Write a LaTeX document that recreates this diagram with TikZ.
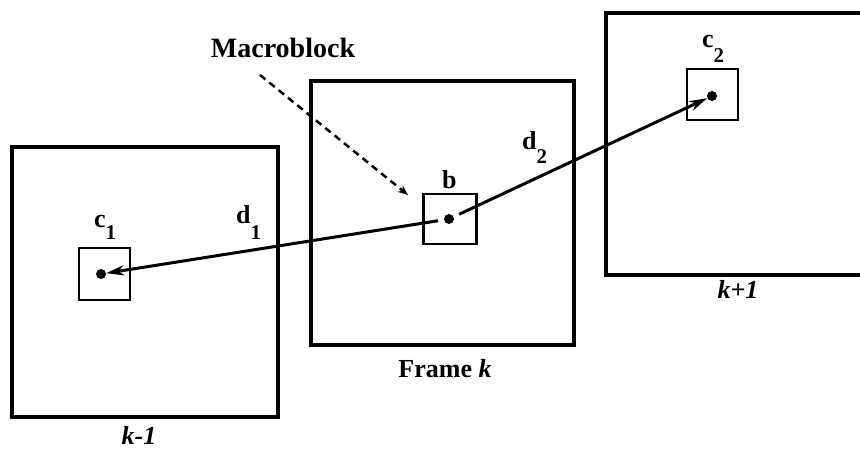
\documentclass[tikz,border=0pt]{standalone}
\usepackage{fontspec}
\setmainfont{Liberation Serif}
\usetikzlibrary{arrows.meta}
\begin{document}
\begin{tikzpicture}[x=1pt,y=-1pt,
  frame/.style={draw,line width=3.5pt,rectangle,inner sep=0pt},
  block/.style={draw,line width=2.5pt,rectangle,inner sep=0pt},
  dot/.style={circle,fill,inner sep=0pt,minimum size=10pt},
  vec/.style={line width=3pt,-{Stealth[length=18pt,width=10pt]}},
  lab/.style={inner sep=0pt,anchor=base west,font=\fontsize{26}{30}\selectfont\bfseries},
  caption/.style={inner sep=0pt,anchor=base,font=\fontsize{26}{30}\selectfont\bfseries},
]
\useasboundingbox (0,0) rectangle (860,451);
% frames
\node[frame,minimum width=266pt,minimum height=270pt] (f1) at (145,282) {};
\node[frame,minimum width=263pt,minimum height=264pt] (f2) at (442.5,213) {};
\coordinate (f3a) at (862,13);
\coordinate (f3b) at (606,13);
\coordinate (f3c) at (606,275);
\coordinate (f3d) at (862,275);
\draw[line width=3.5pt,line join=miter] (f3a) -- (f3b) -- (f3c) -- (f3d);
% blocks
\node[block,minimum width=51pt,minimum height=52pt] (bc1) at (104.5,274) {};
\node[block,minimum width=53pt,minimum height=50pt] (bb) at (450,219) {};
\node[block,minimum width=51pt,minimum height=51pt] (bc2) at (712.5,94.5) {};
% dots
\node[dot] (dc1) at (101,274) {};
\node[dot] (db) at (449,219) {};
\node[dot] (dc2) at (712,96) {};
% vectors
\draw[vec,shorten <=6pt] (db) -- (dc1);
\draw[vec,shorten <=6pt] (db) -- (dc2);
% labels
\node[lab] (lc1) at (94,227) {c\raisebox{-12pt}{\fontsize{21}{21}\selectfont 1}};
\node[lab] (ld1) at (236,223) {d\raisebox{-16pt}{\fontsize{21}{21}\selectfont 1}};
\node[lab] (lb) at (442,188) {b};
\node[lab] (ld2) at (522,149) {d\raisebox{-14pt}{\fontsize{21}{21}\selectfont 2}};
\node[lab] (lc2) at (702,47) {c\raisebox{-15pt}{\fontsize{21}{21}\selectfont 2}};
\node[caption] (t1) at (139,444) {\itshape k-1};
\node[caption] (t2) at (445,377) {Frame \itshape k};
\node[caption] (t3) at (738,298) {\itshape k+1};
\node[caption,font=\fontsize{28}{30}\selectfont\bfseries] (mb) at (283,57) {Macroblock};
% dashed pointer
\coordinate (ms) at (260,75);
\coordinate (me) at (408,195);
\draw[line width=2.5pt,dash pattern=on 7pt off 5pt,-{Stealth[length=10pt,width=8pt]}] (ms) -- (me);
\end{tikzpicture}
\end{document}
